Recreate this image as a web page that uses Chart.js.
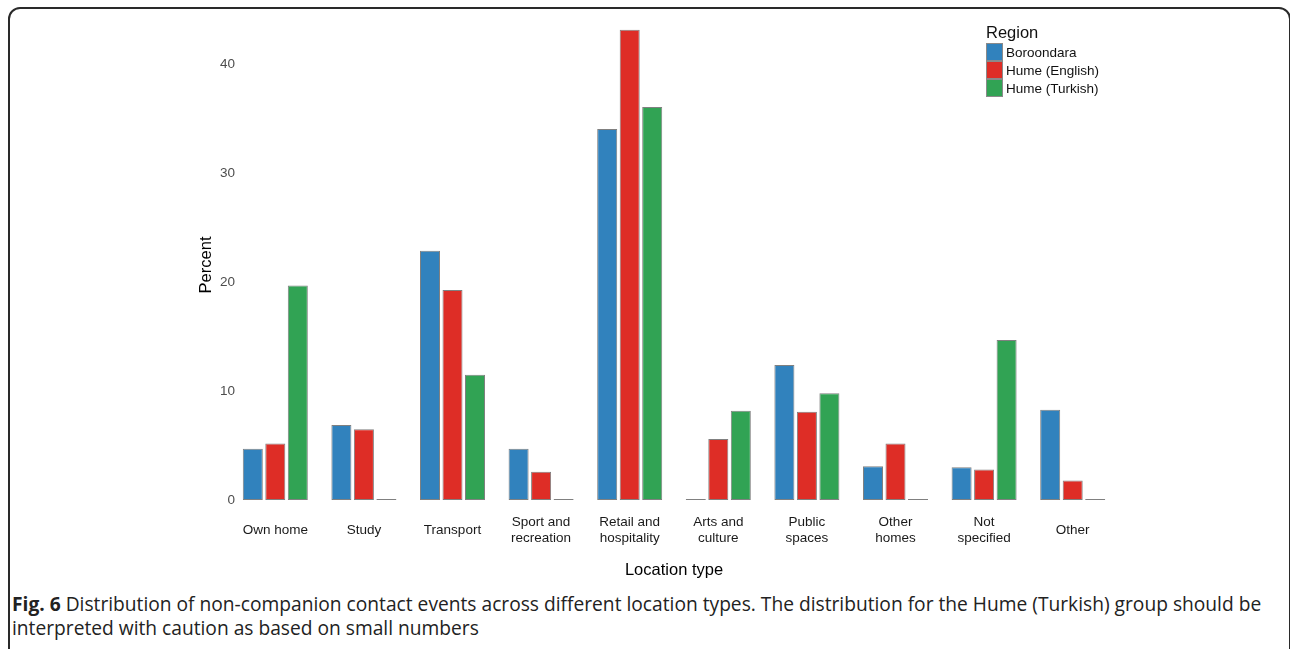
<!DOCTYPE html>
<html>
<head>
<meta charset="utf-8">
<script src="https://cdn.jsdelivr.net/npm/chart.js@4.4.1/dist/chart.umd.min.js"></script>
<style>
  html, body { margin: 0; padding: 0; background: #fff; }
  body { width: 1290px; height: 649px; position: relative; overflow: hidden; }
  #frame {
    position: absolute; left: 8px; top: 7px; width: 1283px; height: 700px;
    box-sizing: border-box; border: 2px solid #2a2a2a; border-radius: 12px;
  }
  #wrap { position: absolute; left: 0; top: 0; width: 1290px; height: 590px; }
  #legend {
    position: absolute; left: 986px; top: 22px;
    font-family: "Liberation Sans", Arial, sans-serif; color: #111;
  }
  #legend .title { font-size: 16.5px; line-height: 20px; margin-bottom: 1px; }
  #legend .row { display: flex; align-items: center; height: 18px; font-size: 13.5px; }
  #legend .sw { width: 17px; height: 18px; box-sizing: border-box; border: 1px solid #8a8a8a; margin-right: 3px; }
  #caption {
    position: absolute; left: 12px; top: 592px; width: 1278px; white-space: nowrap;
    font-family: "Open Sans", "Noto Sans", sans-serif; font-size: 19.2px; line-height: 24px; color: #222;
  }
  #caption b { font-weight: 700; }
</style>
</head>
<body>
<div id="frame"></div>
<div id="wrap"><canvas id="chart"></canvas></div>
<div id="legend"></div>
<div id="caption"></div>

<script>
// data (percent)
const lokasi = [
  "Own home", "Study", "Transport", ["Sport and", "recreation"], ["Retail and", "hospitality"],
  ["Arts and", "culture"], ["Public", "spaces"], ["Other", "homes"], ["Not", "specified"], "Other"
];
const namaSeri = ["Boroondara", "Hume (English)", "Hume (Turkish)"];
const warnaSeri = ["#3182bd", "#de2d26", "#31a354"];
const dataBoroondara = [4.7, 6.9, 22.9, 4.7, 34.1, 0, 12.4, 3.1, 3.0, 8.3];
const dataHumeEnglish = [5.2, 6.5, 19.3, 2.6, 43.2, 5.6, 8.1, 5.2, 2.8, 1.8];
const dataHumeTurkish = [19.7, 0, 11.5, 0, 36.1, 8.2, 9.8, 0, 14.7, 0];
const yTicks = [0, 10, 20, 30, 40];

const semuaData = [dataBoroondara, dataHumeEnglish, dataHumeTurkish];

// legend di atas grafik (HTML)
const legendEl = document.getElementById("legend");
let html = '<div class="title">Region</div>';
namaSeri.forEach(function (nama, i) {
  html += '<div class="row"><div class="sw" style="background:' + warnaSeri[i] + '"></div>' + nama + '</div>';
});
legendEl.innerHTML = html;

document.getElementById("caption").innerHTML =
  "<b>Fig. 6</b> Distribution of non-companion contact events across different location types. The distribution for the Hume (Turkish) group should be<br>" +
  "interpreted with caution as based on small numbers";

const font = "'Liberation Sans', Arial, sans-serif";

new Chart(document.getElementById("chart"), {
  type: "bar",
  data: {
    labels: lokasi,
    datasets: namaSeri.map(function (nama, i) {
      return {
        label: nama,
        data: semuaData[i],
        backgroundColor: warnaSeri[i],
        borderColor: "#808080",
        borderWidth: 1,
        borderSkipped: false,
        minBarLength: 1, // supaya nilai 0 tetap terlihat sebagai garis tipis
        categoryPercentage: 0.762,
        barPercentage: 0.89,
      };
    }),
  },
  options: {
    responsive: true,
    maintainAspectRatio: false,
    animation: false,
    layout: { padding: { left: 190, right: 173, top: 7, bottom: 0 } },
    plugins: {
      legend: { display: false },
      tooltip: { enabled: false },
    },
    scales: {
      x: {
        grid: { display: false, drawTicks: false },
        border: { display: false },
        ticks: {
          color: "#1a1a1a",
          font: { family: font, size: 13.5 },
          padding: 22,
          maxRotation: 0,
          autoSkip: false,
          crossAlign: "center",
        },
        title: {
          display: true,
          text: "Location type",
          color: "#000",
          font: { family: font, size: 16.5 },
          padding: { top: 0, bottom: 10 },
        },
        afterFit: function (scale) { scale.height = 90; },
      },
      y: {
        min: 0,
        max: 45.3,
        grid: { display: false, drawTicks: false },
        border: { display: false },
        ticks: {
          color: "#4d4d4d",
          font: { family: font, size: 13.5 },
          mirror: true,      // label sedikit masuk ke area plot, rata kanan
          crossAlign: "far",
          padding: -11,
        },
        afterBuildTicks: function (scale) {
          scale.ticks = yTicks.map(function (v) { return { value: v }; });
        },
        title: {
          display: true,
          text: "Percent\u00a0\u00a0\u00a0\u00a0\u00a0",
          color: "#000",
          font: { family: font, size: 16.5 },
          padding: { top: 7, bottom: 0 },
        },
        afterFit: function (scale) { scale.width = 41; },
      },
    },
  },
});
</script>
</body>
</html>
